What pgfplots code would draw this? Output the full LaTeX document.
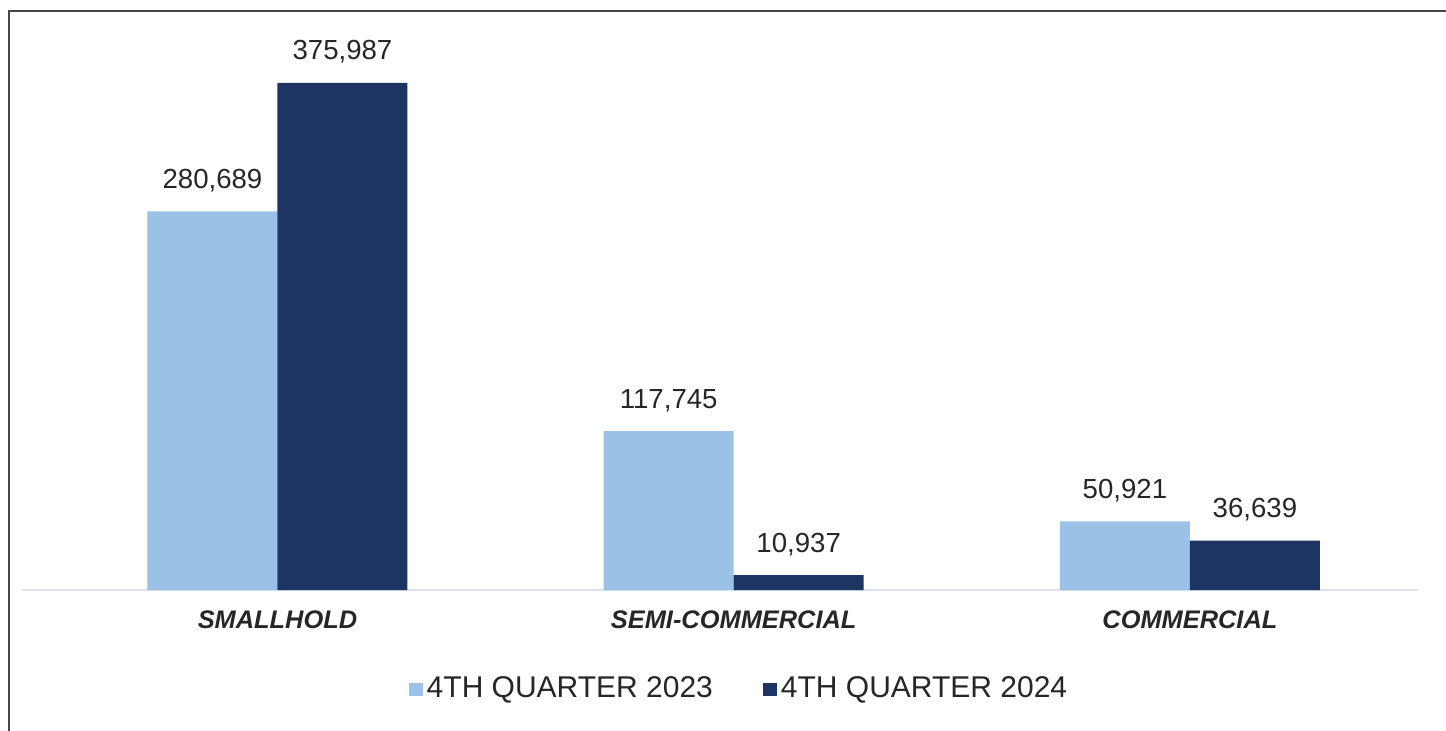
\documentclass[border=0pt]{standalone}
\usepackage{pgfplots}
\pgfplotsset{compat=1.18}
\usepackage{fontspec}
\setmainfont{Liberation Sans}
\definecolor{lightbar}{RGB}{155,194,230}
\definecolor{darkbar}{RGB}{30,52,98}
\definecolor{baseln}{RGB}{218,224,240}
\definecolor{framec}{RGB}{70,70,70}
\begin{document}
\begin{tikzpicture}
\useasboundingbox (0,0) rectangle (723pt,-365.5pt);
\draw[framec, line width=1.2pt] (4.6pt,-366pt) -- (4.6pt,-5.6pt) -- (724pt,-5.6pt);
\begin{axis}[
  at={(11pt,-295pt)}, anchor=south west,
  scale only axis, width=698pt, height=276.5pt,
  xmin=-0.56, xmax=2.5, ymin=0, ymax=410000,
  ybar=0pt, bar width=65pt,
  axis x line=bottom, axis y line=none,
  x axis line style={draw=baseln, line width=0.8pt, -},
  major tick length=0pt,
  xtick={0,1,2},
  xticklabels={SMALLHOLD,SEMI-COMMERCIAL,COMMERCIAL},
  xticklabel style={font=\fontsize{12.7}{14}\selectfont\bfseries\itshape, text=black!85, anchor=base, yshift=-19pt},
  ytick=\empty,
  point meta=explicit symbolic,
  nodes near coords,
  nodes near coords style={font=\fontsize{13.8}{16}\selectfont, text=black!85, anchor=base, yshift=11.5pt},
  legend style={draw=none, fill=none, at={(0.5143,-0.179)}, anchor=center,
    font=\fontsize{15}{17}\selectfont, text=black!85,
    /tikz/every even column/.append style={column sep=23pt}},
  legend columns=2,
  legend image code/.code={\fill[#1] (0pt,-3.3pt) rectangle (7pt,3.2pt);},
]
\addplot[fill=lightbar, draw=none] coordinates {(0,280689)[280,689] (1,117745)[117,745] (2,50921)[50,921]};
\addplot[fill=darkbar, draw=none] coordinates {(0,375987)[375,987] (1,10937)[10,937] (2,36639)[36,639]};
\legend{4TH QUARTER 2023, 4TH QUARTER 2024}
\end{axis}
\end{tikzpicture}
\end{document}
